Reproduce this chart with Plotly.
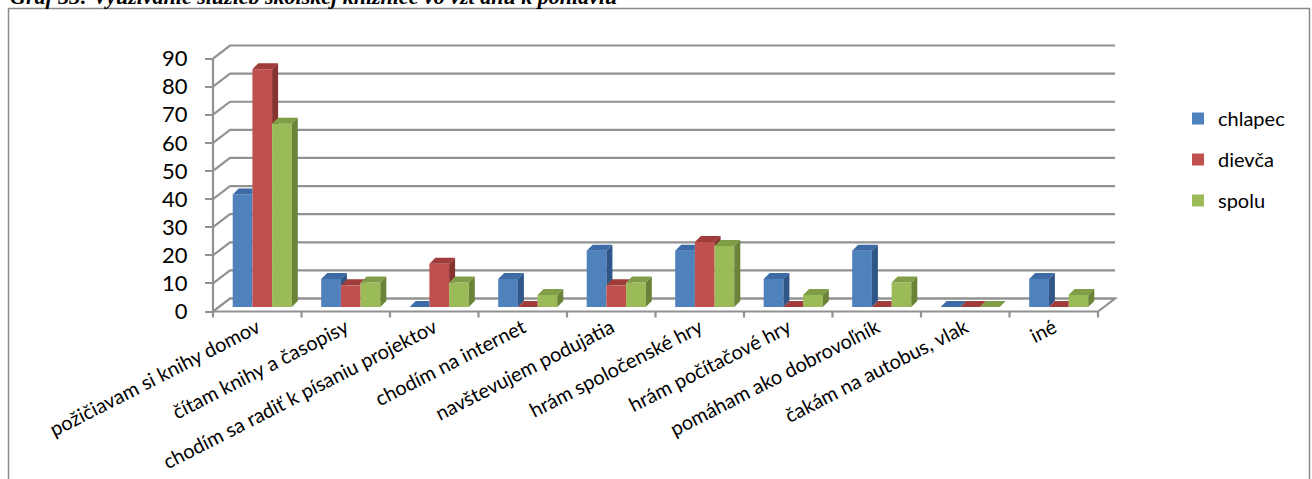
import plotly.graph_objects as go

# ---- data -----------------------------------------------------------------
categories = [
    "požičiavam si knihy domov",
    "čítam knihy a časopisy",
    "chodím sa radiť k písaniu projektov",
    "chodím na internet",
    "navštevujem podujatia",
    "hrám spoločenské hry",
    "hrám počítačové hry",
    "pomáham ako dobrovoľník",
    "čakám na autobus, vlak",
    "iné",
]
chlapec = [40, 10, 0, 10, 20, 20, 10, 20, 0, 10]
dievca = [84.6, 7.7, 15.4, 0, 7.7, 23.1, 0, 0, 0, 0]
spolu = [65.2, 8.7, 8.7, 4.3, 8.7, 21.7, 4.3, 8.7, 0, 4.3]
series_names = ["chlapec", "dievča", "spolu"]
y_ticks = [0, 10, 20, 30, 40, 50, 60, 70, 80, 90]
title_text = "Graf 33: Využívanie služieb školskej knižnice vo vzťahu k pohlaviu"

# ---- styling / geometry -----------------------------------------------------
front_colors = ["#4F81BD", "#C0504D", "#9BBB59"]
top_colors = ["#3D6BA5", "#A03D3A", "#809E47"]
side_colors = ["#2F5687", "#883330", "#6A8337"]
grid_color = "#929292"

FIG_W, FIG_H = 1312, 479
X0_PX, Y0_PX = 213, 311.5          # pixel position of the front axis origin
PX_X, PX_Y = 88.5, 2.811           # pixels per category / per value unit

WX, WY = 17 / PX_X, 13 / PX_Y      # depth of the walls
BX, BY = 5 / PX_X, 4.5 / PX_Y      # plane in which the columns stand
DX, DY = 6 / PX_X, 6 / PX_Y        # depth of a single column
BW = 19.7 / PX_X                   # column width

x_range = [-X0_PX / PX_X, (FIG_W - X0_PX) / PX_X]
y_range = [-(FIG_H - Y0_PX) / PX_Y, Y0_PX / PX_Y]
n_cat = len(categories)
values = [chlapec, dievca, spolu]


def clip_above(poly, t):
    """Keep the part of a polygon with y >= t."""
    out = []
    n = len(poly)
    for k in range(n):
        p, q = poly[k], poly[(k + 1) % n]
        pin, qin = p[1] >= t, q[1] >= t
        if pin:
            out.append(p)
        if pin != qin:
            r = (t - p[1]) / (q[1] - p[1])
            out.append((p[0] + r * (q[0] - p[0]), t))
    return out


def poly_trace(polys, color):
    xs, ys = [], []
    for poly in polys:
        if len(poly) < 3:
            continue
        xs += [p[0] for p in poly] + [poly[0][0], None]
        ys += [p[1] for p in poly] + [poly[0][1], None]
    return go.Scatter(
        x=xs, y=ys, mode="lines", fill="toself", fillcolor=color,
        line=dict(width=0, color=color), hoverinfo="skip", showlegend=False,
    )


fig = go.Figure()

# front faces of the columns
for s, name in enumerate(series_names):
    xs = [i + 0.5 + BX + (s - 1) * BW for i in range(n_cat)]
    fig.add_trace(go.Bar(
        x=xs, y=values[s], base=BY, width=BW, name=name,
        marker=dict(color=front_colors[s], line=dict(width=0)),
        legendgroup=name,
    ))

# side and top faces, drawn series by series so nearer faces cover farther ones
for s in range(len(series_names)):
    sides, tops = [], []
    for i in range(n_cat):
        v = values[s][i]
        xl = i + 0.5 + BX + (s - 1) * BW - BW / 2
        xr = xl + BW
        bot, top = BY, BY + v
        nxt = BY + values[s + 1][i] if s + 1 < len(series_names) else None
        side = [(xr, bot), (xr + DX, bot + DY), (xr + DX, top + DY), (xr, top)]
        top_left = [(xl, top), (xr, top), (xr, top + DY), (xl + DX, top + DY)]
        top_right = [(xr, top), (xr + DX, top + DY), (xr, top + DY)]
        if nxt is not None:
            side = clip_above(side, nxt)
            top_right = clip_above(top_right, nxt)
        sides.append(side)
        tops += [top_left, top_right]
    fig.add_trace(poly_trace(sides, side_colors[s]))
    fig.add_trace(poly_trace(tops, top_colors[s]))

# walls, floor and gridlines
shapes = []
line_style = dict(color=grid_color, width=2.2)
shapes.append(dict(
    type="path", xref="x", yref="y", layer="below", line=line_style,
    fillcolor="white",
    path=f"M0,0 L{n_cat},0 L{n_cat + WX},{WY} L{WX},{WY} Z",
))
for v in y_ticks:
    shapes.append(dict(
        type="path", xref="x", yref="y", layer="below", line=line_style,
        path=f"M0,{v} L{WX},{v + WY} L{n_cat + WX},{v + WY}",
    ))
shapes.append(dict(type="line", xref="x", yref="y", layer="below", line=line_style,
                   x0=0, y0=0, x1=0, y1=y_ticks[-1]))
for k in range(n_cat + 1):
    shapes.append(dict(type="line", xref="x", yref="y", layer="below", line=line_style,
                       x0=k, y0=0, x1=k, y1=-6 / PX_Y))
# outer frame
shapes.append(dict(type="rect", xref="paper", yref="paper",
                   x0=8.5 / FIG_W, x1=1309.5 / FIG_W, y0=-0.05, y1=1 - 8.5 / FIG_H,
                   line=dict(color="#8A8A8A", width=1.5)))

fig.update_layout(
    width=FIG_W, height=FIG_H, autosize=False,
    margin=dict(l=0, r=0, t=0, b=0, pad=0),
    paper_bgcolor="white", plot_bgcolor="white",
    barmode="overlay",
    shapes=shapes,
    font=dict(family="Lato, Carlito, sans-serif", color="black"),
    showlegend=True,
    legend=dict(
        x=1178 / FIG_W, y=1 - 99 / FIG_H, xanchor="left", yanchor="top",
        font=dict(size=20, family="Lato", color="black"),
        bgcolor="rgba(0,0,0,0)", tracegroupgap=12,
    ),
    xaxis=dict(
        range=x_range, domain=[0, 1], anchor="free", position=1 - Y0_PX / FIG_H,
        tickmode="array", tickvals=[i + 0.5 for i in range(n_cat)], ticktext=categories,
        tickangle=-27, tickfont=dict(size=20, family="Lato", color="black"),
        ticks="", showgrid=False, zeroline=False, showline=False,
        ticklabelstandoff=0, automargin=False, fixedrange=True,
    ),
    yaxis=dict(
        range=y_range, domain=[0, 1], anchor="free", position=X0_PX / FIG_W,
        tickmode="array", tickvals=y_ticks,
        tickfont=dict(size=22, family="Lato", color="black"),
        ticks="outside", ticklen=8, tickwidth=2, tickcolor=grid_color,
        showgrid=False, zeroline=False, showline=False,
        ticklabelstandoff=13, automargin=False, fixedrange=True,
    ),
    annotations=[dict(
        text=f"<b><i>{title_text}</i></b>", xref="paper", yref="paper",
        x=8 / FIG_W, y=1 - 11 / FIG_H, xanchor="left", yanchor="bottom",
        showarrow=False, font=dict(family="Liberation Serif", size=22, color="black"),
    )],
)

fig.write_html("out.html")
